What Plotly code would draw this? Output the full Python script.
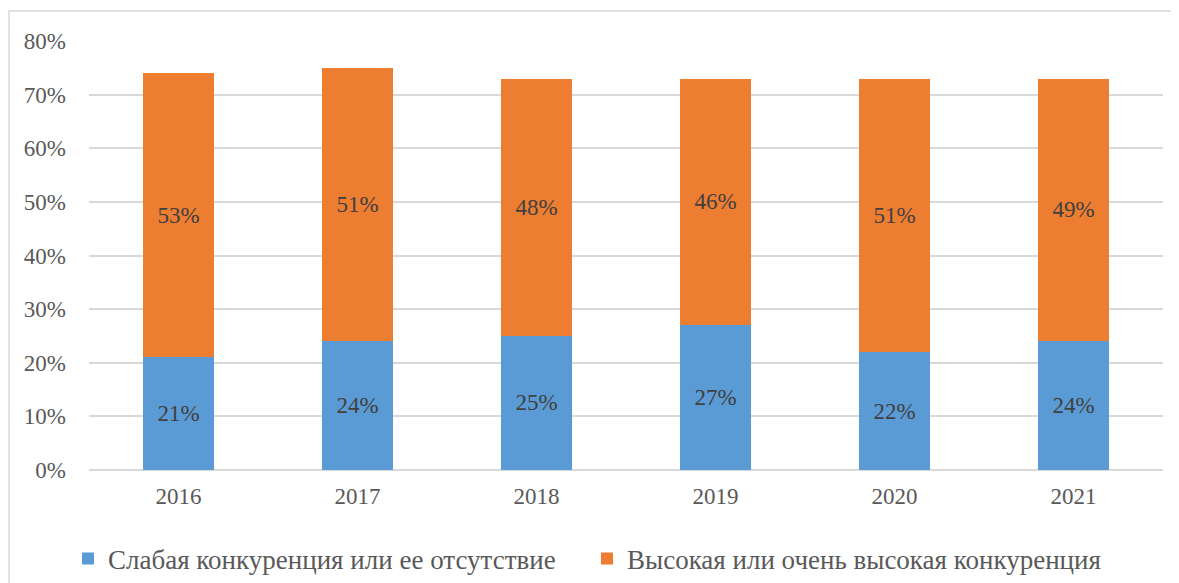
import plotly.graph_objects as go

years = ["2016", "2017", "2018", "2019", "2020", "2021"]
weak = [21, 24, 25, 27, 22, 24]
strong = [53, 51, 48, 46, 51, 49]
names = ["Слабая конкуренция или ее отсутствие", "Высокая или очень высокая конкуренция"]
colors = ["#5B9BD5", "#ED7D31"]
yticks = [0, 10, 20, 30, 40, 50, 60, 70, 80]

FONT = "Liberation Serif, Times New Roman, serif"

fig = go.Figure()
for vals, name, col in zip([weak, strong], names, colors):
    fig.add_trace(go.Bar(
        x=years, y=vals, name=name, marker=dict(color=col, line=dict(width=0)),
        text=[f"{v}%" for v in vals], textposition="inside", insidetextanchor="middle",
        textfont=dict(family=FONT, size=23, color="#404040"),
        textangle=0, width=0.4,
    ))

# figure is placed at an 8px body offset in the page
W, H = 1171, 575
L, R, T, B = 81, 16, 33, 113
pw, ph = W - L - R, H - T - B
bottom = T + ph

fig.update_layout(
    barmode="stack",
    width=W, height=H,
    margin=dict(l=L, r=R, t=T, b=B, autoexpand=False),
    paper_bgcolor="white", plot_bgcolor="white",
    font=dict(family=FONT, size=23, color="#595959"),
    uniformtext=dict(mode=False),
    showlegend=True,
    legend=dict(
        orientation="h", x=(60 - L) / pw, xanchor="left",
        y=(bottom - 551) / ph, yanchor="middle",
        font=dict(family=FONT, size=27, color="#595959"),
        itemwidth=30, tracegroupgap=0,
        entrywidth=474,
        traceorder="normal",
    ),
    xaxis=dict(showgrid=False, showline=False, ticks="", automargin=False,
               ticklabelstandoff=10, tickfont=dict(size=23, color="#595959")),
    yaxis=dict(range=[0, 80], tickvals=yticks, ticktext=[f"{v}%" for v in yticks],
               showgrid=True, gridcolor="#D9D9D9", gridwidth=1.5, automargin=False,
               zeroline=True, zerolinecolor="#D9D9D9", zerolinewidth=1.5,
               showline=False, ticks="", ticklabelstandoff=22,
               tickfont=dict(size=23, color="#595959")),
    shapes=[dict(type="rect", xref="paper", yref="paper",
                 x0=(1 - L) / pw, x1=(W + 20 - L) / pw,
                 y0=(bottom - (H + 20)) / ph, y1=(bottom - 3) / ph,
                 line=dict(color="#D9D9D9", width=1.5), layer="below")],
)

fig.write_html("out.html")
